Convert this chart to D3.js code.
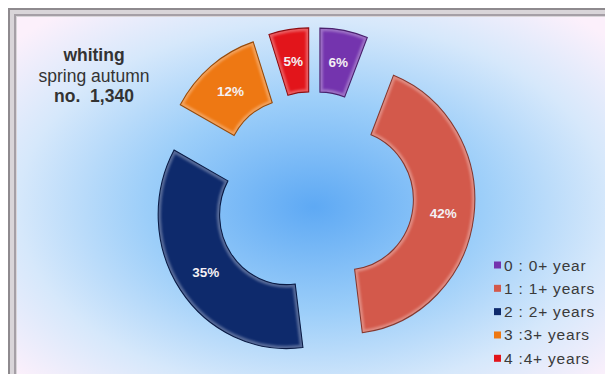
<!DOCTYPE html>
<html>
<head>
<meta charset="utf-8">
<script src="https://cdn.jsdelivr.net/npm/d3@7"></script>
<style>
  html, body { margin: 0; padding: 0; background: #ffffff; }
  svg { display: block; }
  text { font-family: "Liberation Sans", Arial, sans-serif; }
</style>
</head>
<body>
<svg id="chart" width="605" height="374"></svg>
<script>
// Age groups of whiting, spring + autumn surveys
const categories = ["0 : 0+ year", "1 : 1+ years", "2 : 2+ years", "3 :3+ years", "4 :4+ years"];
const shares = [6, 42, 35, 12, 5];
const sliceColors = ["#7434ae", "#d3594b", "#0e2a6c", "#ee7813", "#e2151b"];
const titleLines = ["whiting", "spring autumn", "no.  1,340"];

const W = 605, H = 374;
const svg = d3.select("#chart");
const defs = svg.append("defs");

// plot-area background: blue glow fading to pale lavender
const bg = defs.append("radialGradient").attr("id", "bgGrad")
  .attr("cx", "0.49").attr("cy", "0.5").attr("r", "0.66");
[["0%", "#5ea9f4"], ["42%", "#9ccef9"], ["74%", "#d6e8fb"], ["100%", "#fcf0fb"]]
  .forEach(([o, c]) => bg.append("stop").attr("offset", o).attr("stop-color", c));

// soft blur used for the light rim inside each segment
defs.append("filter").attr("id", "soft")
  .append("feGaussianBlur").attr("stdDeviation", 1.3);

// frame: double grey rule, then the gradient plot area
svg.append("rect").attr("x", 9).attr("y", 9).attr("width", W + 20).attr("height", H + 20)
  .attr("fill", "#d9d5d9").attr("stroke", "#8e8a8e").attr("stroke-width", 2);
svg.append("rect").attr("x", 15).attr("y", 15).attr("width", W + 20).attr("height", H + 20)
  .attr("fill", "none").attr("stroke", "#a59fa6").attr("stroke-width", 2);
svg.append("rect").attr("x", 17).attr("y", 17).attr("width", 606).attr("height", 380)
  .attr("fill", "url(#bgGrad)");

// doughnut geometry
const cx = 313.8, cy = 195.5;
const outerR = 134, innerR = 70, explode = 34, squeezeX = 0.96;

const pie = d3.pie().sort(null).value(d => d)(shares);
const arc = d3.arc().innerRadius(innerR).outerRadius(outerR);
const offsetOf = d => {
  const a = (d.startAngle + d.endAngle) / 2;
  return [Math.sin(a) * explode, -Math.cos(a) * explode];
};

pie.forEach((d, i) => {
  defs.append("clipPath").attr("id", `seg${i}`)
    .append("path").attr("d", arc(d));
});

const ring = svg.append("g")
  .attr("transform", `translate(${cx},${cy}) scale(${squeezeX},1)`);

const seg = ring.selectAll("g.seg").data(pie).join("g")
  .attr("class", "seg")
  .attr("transform", d => `translate(${offsetOf(d)})`);

seg.append("path")
  .attr("d", arc)
  .attr("fill", (d, i) => sliceColors[i]);

// light rim just inside the edge
seg.append("path")
  .attr("d", arc)
  .attr("fill", "none")
  .attr("stroke", "#ffffff").attr("stroke-opacity", 0.3).attr("stroke-width", 6)
  .attr("filter", "url(#soft)")
  .attr("clip-path", (d, i) => `url(#seg${i})`);

// dark outline
seg.append("path")
  .attr("d", arc)
  .attr("fill", "none")
  .attr("stroke", (d, i) => d3.color(sliceColors[i]).darker(1.3))
  .attr("stroke-width", 1.1);

// percentage labels at the segment centroids
const midR = (innerR + outerR) / 2;
svg.append("g").selectAll("text").data(pie).join("text")
  .attr("x", d => {
    const a = (d.startAngle + d.endAngle) / 2;
    return cx + squeezeX * (Math.sin(a) * midR + offsetOf(d)[0]);
  })
  .attr("y", d => {
    const a = (d.startAngle + d.endAngle) / 2;
    return cy + (-Math.cos(a) * midR + offsetOf(d)[1]) + 5;
  })
  .attr("text-anchor", "middle")
  .attr("font-size", 13.5).attr("font-weight", "bold")
  .attr("fill", "#f4f0f4")
  .text(d => `${d.data}%`);

// title block
const title = svg.append("text").attr("text-anchor", "middle").attr("fill", "#333333")
  .attr("font-size", 17.5).style("white-space", "pre");
titleLines.forEach((t, i) => {
  title.append("tspan").attr("x", 94).attr("y", 61 + i * 20.5)
    .attr("font-weight", i === 1 ? "normal" : "bold")
    .text(t);
});

// legend
const legendY = d3.scaleLinear().domain([0, categories.length - 1]).range([265, 358.3]);
const legend = svg.append("g");
const items = legend.selectAll("g").data(categories).join("g")
  .attr("transform", (d, i) => `translate(494,${legendY(i)})`);
items.append("rect").attr("x", 0).attr("y", -3.5).attr("width", 7).attr("height", 7)
  .attr("fill", (d, i) => sliceColors[i]);
items.append("text").attr("x", 10).attr("y", 5.5)
  .attr("font-size", 15.5).attr("letter-spacing", 0.8).attr("fill", "#3a3a3a")
  .style("white-space", "pre")
  .text(d => d);
</script>
</body>
</html>
